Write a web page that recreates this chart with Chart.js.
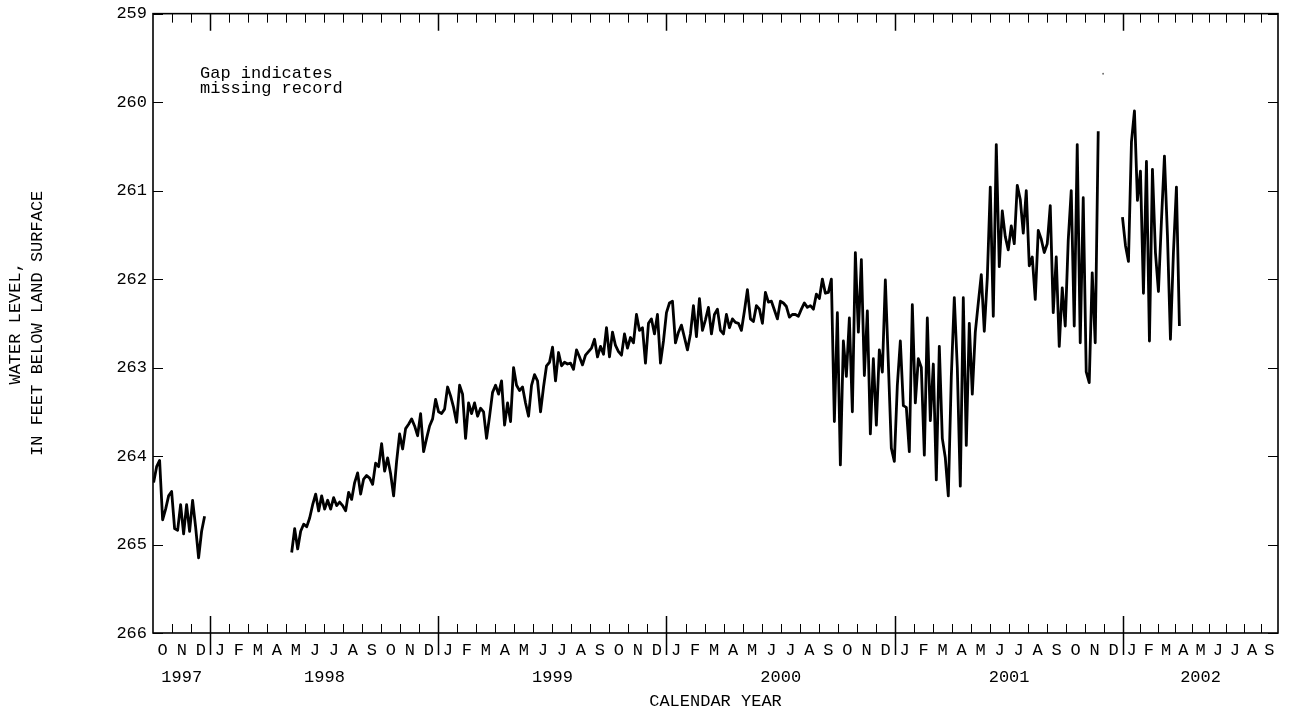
<!DOCTYPE html>
<html>
<head>
<meta charset="utf-8">
<script src="https://cdn.jsdelivr.net/npm/chart.js@4.4.1/dist/chart.umd.min.js"></script>
<style>
  html, body { margin: 0; padding: 0; background: #ffffff; }
  #wrap { width: 1296px; height: 713px; position: relative; }
</style>
</head>
<body>
<div id="wrap"><canvas id="c" width="1296" height="713"></canvas></div>
<script>
// ---------------- data ----------------
// x axis: days since 1 Oct 1997; samples every ~4.8 days inside each record segment
const axisEndDay = 1801;
const sampleStepDays = 4.8;
const yAxisTicks = [259, 260, 261, 262, 263, 264, 265, 266];
const monthLetters = ['J','F','M','A','M','J','J','A','S','O','N','D'];
const yearLabels = ['1997','1998','1999','2000','2001','2002'];
const yearFirstMonth = [9, 0, 0, 0, 0, 0];      // first month shown in each year
const yearMonthCount = [3, 12, 12, 12, 12, 9];   // months shown in each year
const noteLines = ['Gap indicates', 'missing record'];

// segment 1: Oct - Dec 1997
const seg1StartDay = 1;
const seg1Levels = [264.30, 264.12, 264.05, 264.72, 264.60, 264.45, 264.40, 264.82, 264.84, 264.55,
  264.88, 264.55, 264.85, 264.50, 264.80, 265.15, 264.85, 264.68];

// segment 2: May 1998 - Nov 2001
const seg2StartDay = 222;
const seg2Levels = [
  265.09, 264.82, 265.05, 264.85, 264.77, 264.80, 264.70, 264.55, 264.43, 264.62,
  264.45, 264.60, 264.50, 264.60, 264.47, 264.56, 264.52, 264.56, 264.62, 264.41,
  264.49, 264.30, 264.19, 264.43, 264.26, 264.22, 264.25, 264.32, 264.08, 264.12,
  263.86, 264.17, 264.02, 264.20, 264.45, 264.06, 263.75, 263.92, 263.69, 263.64,
  263.58, 263.66, 263.77, 263.52, 263.95, 263.80, 263.66, 263.58, 263.36, 263.50,
  263.52, 263.47, 263.22, 263.32, 263.45, 263.62, 263.20, 263.30, 263.80, 263.40,
  263.52, 263.40, 263.55, 263.46,
  263.50, 263.80, 263.55, 263.28, 263.20, 263.30, 263.15, 263.65, 263.40, 263.61,
  263.00, 263.20, 263.26, 263.22, 263.40, 263.55, 263.20, 263.08, 263.15, 263.50,
  263.22, 262.98, 262.94, 262.77, 263.15, 262.83, 262.98, 262.94, 262.96, 262.95,
  263.02, 262.80, 262.88, 262.97, 262.86, 262.82, 262.78, 262.68, 262.88, 262.76,
  262.85, 262.55, 262.88, 262.60, 262.75, 262.82, 262.86, 262.62, 262.78, 262.66,
  262.72, 262.40, 262.58, 262.55, 262.95, 262.50, 262.45, 262.62, 262.40, 262.95,
  262.70, 262.38, 262.27,
  262.25, 262.72, 262.60, 262.52, 262.66, 262.80, 262.62, 262.30, 262.65, 262.22,
  262.58, 262.46, 262.32, 262.62, 262.40, 262.34, 262.58, 262.62, 262.40, 262.55,
  262.45, 262.49, 262.50, 262.58, 262.36, 262.12, 262.45, 262.48, 262.30, 262.34,
  262.50, 262.15, 262.26, 262.25, 262.35, 262.45, 262.25, 262.27, 262.31, 262.43,
  262.40, 262.40, 262.42, 262.34, 262.27, 262.32, 262.30, 262.34, 262.17, 262.22,
  262.00, 262.16, 262.15, 262.00,
  263.61, 262.38, 264.10, 262.70, 263.10, 262.44, 263.50, 261.70, 262.60, 261.78,
  263.09, 262.36, 263.75, 262.90, 263.65, 262.80, 263.05, 262.01, 262.95, 263.91,
  264.06, 263.20, 262.70, 263.43, 263.45, 263.95, 262.29, 263.40, 262.90, 263.00,
  263.99, 262.44, 263.60, 262.96, 264.27, 262.76, 263.80, 264.02, 264.45, 263.10,
  262.21, 263.00, 264.34, 262.21, 263.88, 262.50, 263.30, 262.60, 262.27, 261.95,
  262.59, 261.99,
  260.96, 262.42, 260.48, 261.86, 261.23, 261.52, 261.67, 261.40, 261.60, 260.94,
  261.10, 261.48, 261.00, 261.85, 261.75, 262.23, 261.45, 261.55, 261.70, 261.60,
  261.17, 262.38, 261.75, 262.76, 262.10, 262.53, 261.56, 261.00, 262.53, 260.48,
  262.72, 261.08, 263.05, 263.17, 261.93, 262.72, 260.33
];

// lone reading inside the Dec 2001 gap
const loneDay = 1521;
const loneLevel = 259.68;

// segment 3: Jan - Mar 2002
const seg3StartDay = 1552;
const seg3Levels = [261.30, 261.62, 261.80, 260.45, 260.10, 261.11, 260.78, 262.16, 260.67, 262.70,
  260.76, 261.70, 262.14, 261.34, 260.61, 261.50, 262.68, 261.70, 260.96, 262.53];

// ---------------- build chart points ----------------
function segPoints(startDay, levels) {
  return levels.map((v, i) => ({ x: startDay + i * sampleStepDays, y: v }));
}
const s1 = segPoints(seg1StartDay, seg1Levels);
const s2 = segPoints(seg2StartDay, seg2Levels);
const s3 = segPoints(seg3StartDay, seg3Levels);
const linePoints = [
  ...s1, { x: (s1[s1.length - 1].x + s2[0].x) / 2, y: null },
  ...s2, { x: (s2[s2.length - 1].x + s3[0].x) / 2, y: null },
  ...s3
];

// year spans (days since 1 Oct 1997); months are spaced evenly inside each year span
const dayOf = (yr, m) => (Date.UTC(yr, m, 1) - Date.UTC(1997, 9, 1)) / 86400000;
const yearSpans = yearLabels.map((lbl, i) => {
  const yr = parseInt(lbl, 10);
  return { label: lbl, a: Math.max(dayOf(yr, 0), 0), b: Math.min(dayOf(yr + 1, 0), axisEndDay),
           first: yearFirstMonth[i], n: yearMonthCount[i] };
});
const monthTicks = [];    // month boundaries inside years
const monthCenters = [];  // label positions
yearSpans.forEach(ys => {
  const w = (ys.b - ys.a) / ys.n;
  for (let k = 0; k < ys.n; k++) {
    if (k > 0) monthTicks.push(ys.a + k * w);
    monthCenters.push({ value: ys.a + (k + 0.5) * w, m: ys.first + k });
  }
});
const yearTicks = yearSpans.slice(1).map(ys => ys.a);

const FONT = "'Liberation Mono', 'DejaVu Sans Mono', monospace";
const FSIZE = 17;

const framePlugin = {
  id: 'framePlugin',
  afterDraw(chart) {
    const { ctx, chartArea: a, scales: { x, y } } = chart;
    ctx.save();
    ctx.strokeStyle = '#000';
    ctx.lineWidth = 1.6;
    ctx.strokeRect(a.left, a.top, a.right - a.left, a.bottom - a.top);
    // month ticks
    ctx.lineWidth = 1;
    monthTicks.forEach(d => {
      const px = Math.round(x.getPixelForValue(d)) + 0.5;
      ctx.beginPath();
      ctx.moveTo(px, a.bottom); ctx.lineTo(px, a.bottom - 9);
      ctx.moveTo(px, a.top); ctx.lineTo(px, a.top + 9);
      ctx.stroke();
    });
    // year ticks
    ctx.lineWidth = 1.5;
    yearTicks.forEach(d => {
      const px = Math.round(x.getPixelForValue(d)) + 0.5;
      ctx.beginPath();
      ctx.moveTo(px, a.bottom + 22); ctx.lineTo(px, a.bottom - 17);
      ctx.moveTo(px, a.top); ctx.lineTo(px, a.top + 17);
      ctx.stroke();
    });
    // y ticks (inward)
    ctx.lineWidth = 1;
    yAxisTicks.forEach(v => {
      const py = Math.round(y.getPixelForValue(v)) + 0.5;
      ctx.beginPath();
      ctx.moveTo(a.left, py); ctx.lineTo(a.left + 10, py);
      ctx.moveTo(a.right, py); ctx.lineTo(a.right - 10, py);
      ctx.stroke();
    });
    // year labels
    ctx.fillStyle = '#000';
    ctx.font = FSIZE + 'px ' + FONT;
    ctx.textAlign = 'center';
    ctx.textBaseline = 'middle';
    yearSpans.forEach(ys => {
      ctx.fillText(ys.label, x.getPixelForValue((ys.a + ys.b) / 2), 677);
    });
    // note
    ctx.textAlign = 'left';
    noteLines.forEach((t, i) => ctx.fillText(t, 200, 73 + i * 15));
    ctx.restore();
  }
};

new Chart(document.getElementById('c'), {
  type: 'line',
  data: {
    datasets: [
      {
        data: linePoints,
        borderColor: '#000',
        borderWidth: 2.8,
        borderJoinStyle: 'round',
        pointRadius: 0,
        spanGaps: false,
        tension: 0
      },
      {
        data: [{ x: loneDay, y: loneLevel }],
        showLine: false,
        pointRadius: 1,
        pointBackgroundColor: '#777',
        pointBorderWidth: 0
      }
    ]
  },
  options: {
    responsive: false,
    animation: false,
    events: [],
    layout: { padding: { left: 0, right: 18, top: 8, bottom: 0 } },
    plugins: { legend: { display: false }, tooltip: { enabled: false } },
    scales: {
      x: {
        type: 'linear',
        min: 0,
        max: axisEndDay,
        grid: { display: false, drawTicks: false },
        border: { display: false },
        afterBuildTicks: (scale) => { scale.ticks = monthCenters.map(c => ({ value: c.value })); },
        afterFit: (scale) => { scale.height = 80; },
        ticks: {
          autoSkip: false, maxRotation: 0, minRotation: 0, padding: 9,
          color: '#000',
          font: { family: FONT, size: FSIZE, lineHeight: 1 },
          callback: (value, index) => monthLetters[monthCenters[index].m]
        },
        title: {
          display: true, text: 'CALENDAR YEAR', color: '#000',
          font: { family: FONT, size: FSIZE, lineHeight: 1.3 },
          padding: { top: 0, bottom: 0 }
        }
      },
      y: {
        reverse: true,
        min: 259,
        max: 266,
        grid: { display: false, drawTicks: false },
        border: { display: false },
        afterBuildTicks: (scale) => { scale.ticks = yAxisTicks.map(v => ({ value: v })); },
        afterFit: (scale) => { scale.width = 153; },
        ticks: {
          padding: 6, color: '#000',
          font: { family: FONT, size: FSIZE, lineHeight: 0.9 },
          callback: (v) => String(v)
        },
        title: {
          display: true, text: ['WATER LEVEL,', 'IN FEET BELOW LAND SURFACE'], color: '#000',
          font: { family: FONT, size: FSIZE, lineHeight: 1.3 },
          padding: { top: 4, bottom: 0 }
        }
      }
    }
  },
  plugins: [framePlugin]
});
</script>
</body>
</html>
